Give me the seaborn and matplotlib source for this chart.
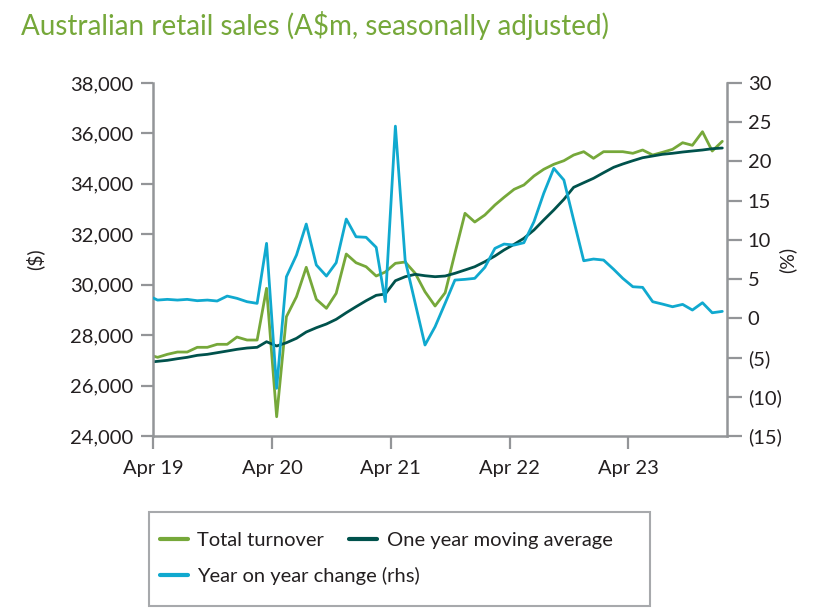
import matplotlib
matplotlib.use('Agg')
import matplotlib.pyplot as plt
import matplotlib.dates as mdates
from matplotlib.patches import Rectangle
from matplotlib.ticker import FuncFormatter, MultipleLocator
import seaborn as sns
import pandas as pd

# monthly data, Mar 2019 .. Jan 2024 (A$m, seasonally adjusted)
start_month = '2019-03-01'
total_turnover = [
    27240, 27121, 27240, 27331, 27331, 27518, 27518, 27637, 27637, 27926,
    27807, 27807, 29858, 24765, 28731, 29525, 30691, 29421, 29065, 29659,
    31218, 30873, 30714, 30346, 30504, 30849, 30901, 30453, 29723, 29156,
    29683, 31245, 32832, 32487, 32765, 33161, 33466, 33784, 33955, 34312,
    34577, 34776, 34918, 35144, 35276, 35013, 35276, 35276, 35276, 35212,
    35343, 35144, 35251, 35370, 35632, 35529, 36068, 35303, 35688,
]
moving_average = [
    26920, 26962, 27002, 27066, 27121, 27200, 27240, 27304, 27371, 27438,
    27490, 27518, 27740, 27570, 27700, 27875, 28125, 28295, 28442, 28628,
    28890, 29128, 29366, 29580, 29632, 30159, 30318, 30413, 30357, 30318,
    30346, 30453, 30584, 30714, 30913, 31139, 31377, 31603, 31841, 32170,
    32567, 32963, 33387, 33863, 34046, 34220, 34443, 34657, 34788, 34918,
    35037, 35105, 35172, 35212, 35263, 35303, 35343, 35394, 35422,
]
yoy_change = [
    2.93, 2.33, 2.42, 2.33, 2.42, 2.25, 2.33, 2.21, 2.84, 2.55,
    2.12, 1.91, 9.56, -8.92, 5.30, 8.07, 12.02, 6.80, 5.39, 7.09,
    12.66, 10.40, 10.33, 9.05, 2.12, 24.50, 7.43, 1.91, -3.40, -1.07,
    1.93, 4.88, 4.97, 5.10, 6.50, 8.92, 9.47, 9.34, 9.64, 12.32,
    15.93, 19.12, 17.63, 12.53, 7.34, 7.56, 7.43, 6.25, 5.10, 4.03,
    3.95, 2.12, 1.82, 1.48, 1.78, 1.06, 1.99, 0.71, 0.89,
]

GREEN = '#76a83a'
TEAL = '#00524c'
BLUE = '#10a9cf'
GREY = '#939598'
TEXT = '#231f20'

dates = pd.date_range(start_month, periods=len(total_turnover), freq='MS') + pd.Timedelta(days=14)
df = pd.DataFrame({
    'date': dates,
    'turnover': total_turnover,
    'average': moving_average,
    'yoy': yoy_change,
})

sns.set_style('white')
plt.rcParams['font.family'] = ['Lato', 'DejaVu Sans']

fig = plt.figure(figsize=(8.29, 6.13), dpi=100)
ax = fig.add_axes([0.1846, 0.2887, 0.6922, 0.5759])
ax2 = ax.twinx()

sns.lineplot(data=df, x='date', y='turnover', ax=ax, color=GREEN, linewidth=2.0,
             label='Total turnover', legend=False)
sns.lineplot(data=df, x='date', y='average', ax=ax, color=TEAL, linewidth=2.0,
             label='One year moving average', legend=False)
sns.lineplot(data=df, x='date', y='yoy', ax=ax2, color=BLUE, linewidth=2.0,
             label='Year on year change (rhs)', legend=False)

ax.set_xlim(pd.Timestamp('2019-04-01'), pd.Timestamp('2024-01-29'))
ax.set_ylim(24000, 38000)
ax2.set_ylim(-15, 30)

ax.xaxis.set_major_locator(mdates.MonthLocator(bymonth=4))
ax.xaxis.set_major_formatter(mdates.DateFormatter('%b %y'))
ax.yaxis.set_major_locator(MultipleLocator(2000))
ax.yaxis.set_major_formatter(FuncFormatter(lambda v, p: f'{v:,.0f}'))
ax2.yaxis.set_major_locator(MultipleLocator(5))
ax2.yaxis.set_major_formatter(FuncFormatter(lambda v, p: f'({abs(v):.0f})' if v < 0 else f'{v:.0f}'))

ax.set_xlabel('')
ax.set_ylabel('($)', fontsize=14, color=TEXT)
ax2.set_ylabel('(%)', fontsize=14, color=TEXT)
ax.yaxis.set_label_coords(-0.19, 0.5)
ax2.yaxis.set_label_coords(1.09, 0.5)

for a in (ax, ax2):
    a.spines['top'].set_visible(False)
    for side in ('left', 'right', 'bottom'):
        a.spines[side].set_color(GREY)
        a.spines[side].set_linewidth(1.8)
ax.spines['right'].set_visible(False)
ax2.spines['left'].set_visible(False)
ax2.spines['bottom'].set_visible(False)

ax.tick_params(axis='y', length=9, width=1.6, color=GREY, labelsize=14.5, labelcolor=TEXT, pad=5, left=True)
ax.tick_params(axis='x', length=9, width=1.6, color=GREY, labelsize=14.5, labelcolor=TEXT, pad=8, bottom=True)
ax2.tick_params(axis='y', length=11, width=1.6, color=GREY, labelsize=14.5, labelcolor=TEXT, pad=4, right=True)

fig.text(0.025, 0.943, 'Australian retail sales (A$m, seasonally adjusted)',
         color=GREEN, fontsize=20, va='baseline', ha='left')

# legend: framed box with two rows of entries
fig.patches.append(Rectangle((0.1797, 0.0114), 0.6043, 0.1533, transform=fig.transFigure,
                             fill=False, edgecolor='#a7a9ac', linewidth=1.5))
h1, l1 = ax.get_legend_handles_labels()
h2, l2 = ax2.get_legend_handles_labels()
leg_style = dict(frameon=False, fontsize=14.5, handlelength=1.4, handletextpad=0.45,
                 columnspacing=1.25, borderpad=0, borderaxespad=0, labelcolor=TEXT)
leg1 = fig.legend(h1, l1, ncol=2, loc='center left', bbox_to_anchor=(0.193, 0.119), **leg_style)
leg2 = fig.legend(h2, l2, ncol=1, loc='center left', bbox_to_anchor=(0.193, 0.0603), **leg_style)
for leg in (leg1, leg2):
    for line in leg.get_lines():
        line.set_linewidth(3)

fig.savefig('out.png', dpi=100)
